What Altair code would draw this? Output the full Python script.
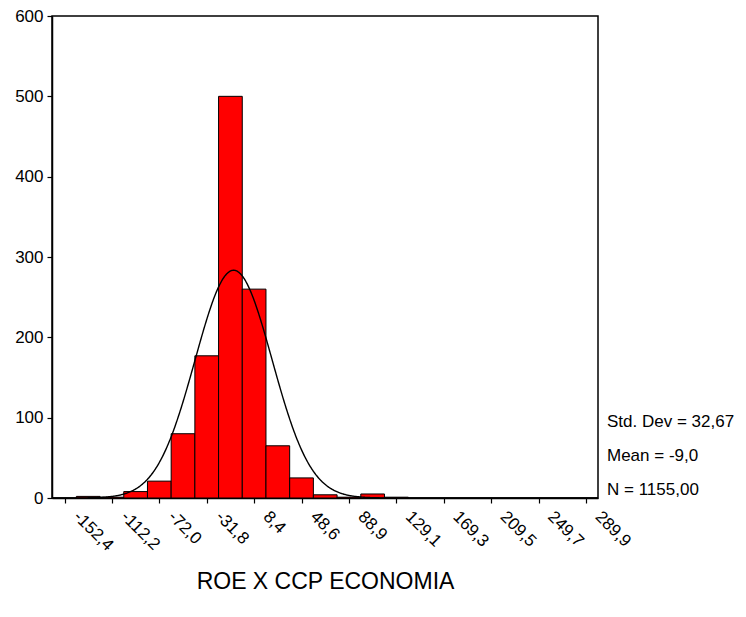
import altair as alt
import pandas as pd

# ---- data ----
bin_centers = [-132.3, -112.2, -92.1, -72.0, -51.9, -31.8, -11.7, 8.4, 28.5, 48.6, 68.7, 88.8, 108.9, 129.1]
counts = [2, 1, 8, 21, 80, 177, 500, 260, 65, 25, 4, 1, 5, 1]
bin_width = 20.1
tick_values = [-152.4, -112.2, -72.0, -31.8, 8.4, 48.6, 88.9, 129.1, 169.3, 209.5, 249.7, 289.9]
y_ticks = [0, 100, 200, 300, 400, 500, 600]
stats_lines = ["Std. Dev = 32,67", "Mean = -9,0", "N = 1155,00"]
mean_val, sd_val, n_val = -9.0, 32.67, 1155
x_domain = [-163.0, 300.0]
y_domain = [0, 600]
x_title = "ROE X CCP ECONOMIA"

FONT = "Liberation Sans"
W, H = 546, 482

bars_df = pd.DataFrame({"center": bin_centers, "count": counts})
bars_df["x0"] = bars_df["center"] - bin_width / 2
bars_df["x1"] = bars_df["center"] + bin_width / 2

xscale = alt.Scale(domain=x_domain, nice=False, zero=False)
yscale = alt.Scale(domain=y_domain, nice=False)

label_expr = "replace(replace(format(datum.value, '.1f'), '.', ','), '\u2212', '-')"

x_axis = alt.Axis(
    values=tick_values,
    labelExpr=label_expr,
    labelAngle=45,
    labelAlign="left",
    labelBaseline="top",
    labelOffset=17,
    labelPadding=5,
    tickSize=5,
    labelFontSize=17,
    title=x_title,
    titleFontSize=23,
    titleFontWeight="normal",
    titleFont=FONT,
    titleColor="black",
    titleBaseline="alphabetic",
    titleY=90,
    titleX=W / 2,
    grid=False,
    labelFlush=False,
    labelOverlap=False,
)
y_axis = alt.Axis(
    values=y_ticks,
    tickSize=5,
    labelPadding=4,
    labelFontSize=17,
    title=None,
    grid=False,
)

bars = alt.Chart(bars_df).mark_bar(
    color="#FF0000", stroke="black", strokeWidth=1
).encode(
    x=alt.X("x0:Q", scale=xscale, axis=x_axis),
    x2="x1:Q",
    y=alt.Y("count:Q", scale=yscale, axis=y_axis),
    y2=alt.datum(0),
)

peak = n_val * bin_width / (sd_val * (2 * 3.141592653589793) ** 0.5)
curve = alt.Chart(alt.sequence(x_domain[0], x_domain[1] + 0.5, 0.5, as_="x")).transform_calculate(
    y=f"{peak} * exp(-0.5 * pow((datum.x - ({mean_val})) / {sd_val}, 2))"
).mark_line(color="black", strokeWidth=1.4, clip=True).encode(
    x=alt.X("x:Q", scale=xscale),
    y=alt.Y("y:Q", scale=yscale),
)

texts = []
for i, line in enumerate(stats_lines):
    texts.append(
        alt.Chart(pd.DataFrame({"t": [line]})).mark_text(
            align="left", baseline="middle", font=FONT, fontSize=17, color="black"
        ).encode(text="t:N", x=alt.value(555), y=alt.value(406 + i * 34))
    )

chart = alt.layer(bars, curve, *texts).properties(
    width=W,
    height=H,
    background="white",
    autosize=alt.AutoSizeParams(type="none"),
    padding={"left": 44, "top": 8, "right": 139, "bottom": 100},
).configure_view(
    stroke="black", strokeWidth=1.5
).configure_axis(
    labelFont=FONT,
    labelColor="black",
    tickColor="black",
    domainColor="black",
    domainWidth=1.5,
    tickWidth=1.2,
)

chart.save("out.html", embed_options={"renderer": "svg", "actions": False})
